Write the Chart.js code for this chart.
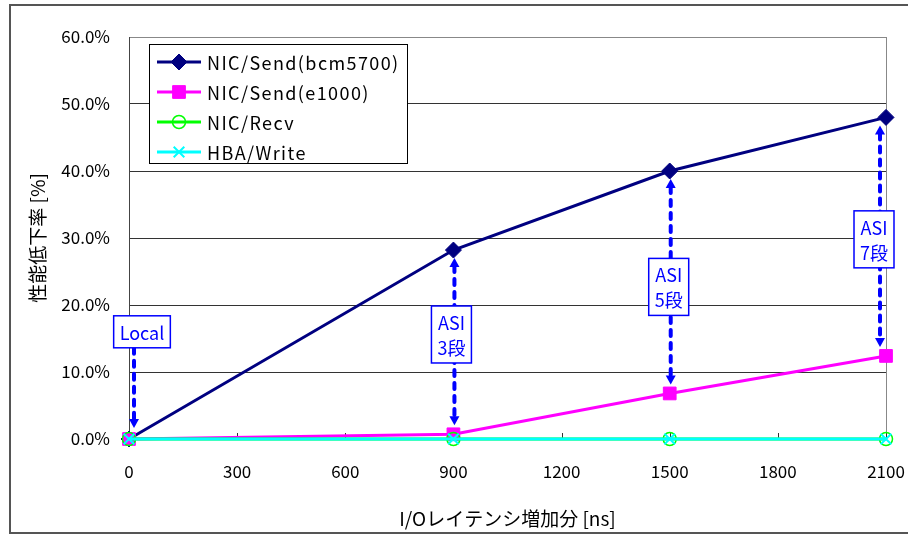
<!DOCTYPE html>
<html>
<head>
<meta charset="utf-8">
<script src="https://cdn.jsdelivr.net/npm/chart.js@4.4.0/dist/chart.umd.min.js"></script>
<style>
    html, body { margin: 0; padding: 0; background: #fff; }
</style>
</head>
<body>
<canvas id="chart" width="908" height="536"></canvas>
<script>
// Latency added (ns) and performance drop (%)
const latency = [0, 900, 1500, 2100];
const bcm5700 = [0, 28.2, 40.0, 48.0];
const e1000 = [0, 0.7, 6.8, 12.4];
const nicRecv = [0, 0, 0, 0];
const hbaWrite = [0, 0, 0, 0];

const seriesNames = ['NIC/Send(bcm5700)', 'NIC/Send(e1000)', 'NIC/Recv', 'HBA/Write'];
const xTitle = 'I/Oレイテンシ増加分 [ns]';
const yTitle = '性能低下率 [%]';

// Callouts: label and the height (%) of the label box centre
const stageLabels = [['Local'], ['ASI', '3段'], ['ASI', '5段'], ['ASI', '7段']];
const stageLabelY = [16.0, 15.6, 22.7, 29.8];

const FONT = '"Noto Sans CJK JP", "Noto Sans", sans-serif';
const BLUE = '#0000ff';

// hand-placed nudges of the callouts (px)
const boxShift = [13, -2, -1, -12];
const arrowShift = [5, 1, 1, -6];

function makeSet(label, data, color, style, radius, fill, border, order) {
    return {
        label: label,
        data: latency.map((x, i) => ({ x: x, y: data[i] })),
        borderColor: color,
        backgroundColor: color,
        borderWidth: 3,
        pointStyle: style,
        pointRadius: radius,
        pointHoverRadius: radius,
        pointBackgroundColor: fill,
        pointBorderColor: color,
        pointBorderWidth: border,
        tension: 0,
        clip: false,
        order: order
    };
}

// white page + outer frame
const framePlugin = {
    id: 'frame',
    beforeDraw(chart) {
        const ctx = chart.ctx;
        ctx.save();
        ctx.fillStyle = '#fff';
        ctx.fillRect(0, 0, chart.width, chart.height);
        ctx.strokeStyle = '#555';
        ctx.lineWidth = 2;
        ctx.strokeRect(10, 5, chart.width + 20, 528);
        ctx.restore();
    },
    beforeDatasetsDraw(chart) {
        const ctx = chart.ctx;
        const a = chart.chartArea;
        const xs = chart.scales.x;
        ctx.save();
        // right border of plot area
        ctx.strokeStyle = '#888';
        ctx.lineWidth = 1;
        ctx.beginPath();
        ctx.moveTo(Math.round(a.right) + 0.5, a.top);
        ctx.lineTo(Math.round(a.right) + 0.5, a.bottom);
        ctx.stroke();
        // inside tick marks on the x axis
        ctx.strokeStyle = '#333';
        xs.ticks.forEach(t => {
            const px = Math.round(xs.getPixelForValue(t.value)) + 0.5;
            ctx.beginPath();
            ctx.moveTo(px, a.bottom);
            ctx.lineTo(px, a.bottom - 6);
            ctx.stroke();
        });
        ctx.restore();
    }
};

function arrowHead(ctx, x, y, dir) {
    ctx.beginPath();
    ctx.moveTo(x, y);
    ctx.lineTo(x - 5, y - dir * 9);
    ctx.lineTo(x + 5, y - dir * 9);
    ctx.closePath();
    ctx.fill();
}

const calloutPlugin = {
    id: 'callouts',
    afterDatasetsDraw(chart) {
        const ctx = chart.ctx;
        const xs = chart.scales.x, ys = chart.scales.y;
        ctx.save();
        ctx.font = '18px ' + FONT;
        stageLabels.forEach((lines, i) => {
            const px = xs.getPixelForValue(latency[i]);
            const ax = px + arrowShift[i];
            const bx = px + boxShift[i];
            const by = ys.getPixelForValue(stageLabelY[i]);
            const lineH = 25;
            const w = Math.max(...lines.map(l => ctx.measureText(l).width)) + 12;
            const h = lines.length * lineH + 7;

            let yTop, yBot, headUp;
            if (i === 0) {
                yTop = by + h / 2;
                yBot = ys.getPixelForValue(e1000[i]) - 11;
                headUp = false;
            } else {
                yTop = ys.getPixelForValue(bcm5700[i]) + 8;
                yBot = ys.getPixelForValue(e1000[i]) - 9;
                headUp = true;
            }
            // dashed shaft
            ctx.strokeStyle = BLUE;
            ctx.fillStyle = BLUE;
            ctx.lineWidth = 4;
            ctx.lineCap = 'round';
            ctx.setLineDash([6, 7]);
            ctx.beginPath();
            ctx.moveTo(ax, yTop + (headUp ? 8 : 0));
            ctx.lineTo(ax, yBot - 8);
            ctx.stroke();
            ctx.setLineDash([]);
            arrowHead(ctx, ax, yBot, 1);
            if (headUp) arrowHead(ctx, ax, yTop, -1);

            // label box
            ctx.fillStyle = '#fff';
            ctx.fillRect(bx - w / 2, by - h / 2, w, h);
            ctx.lineWidth = 1.5;
            ctx.strokeRect(bx - w / 2, by - h / 2, w, h);
            ctx.fillStyle = BLUE;
            ctx.textAlign = 'center';
            ctx.textBaseline = 'middle';
            lines.forEach((l, k) => {
                ctx.fillText(l, bx, by - (lines.length - 1) * lineH / 2 + k * lineH + 1);
            });
        });
        ctx.restore();
    }
};

// boxed legend inside the plot
const legendPlugin = {
    id: 'boxLegend',
    afterDraw(chart) {
        const ctx = chart.ctx;
        const left = 149, top = 44, w = 258, h = 119, rowH = 30;
        ctx.save();
        ctx.fillStyle = '#fff';
        ctx.fillRect(left, top, w, h);
        ctx.strokeStyle = '#000';
        ctx.lineWidth = 1;
        ctx.strokeRect(left + 0.5, top + 0.5, w, h);
        ctx.font = '18px ' + FONT;
        ctx.textBaseline = 'middle';
        ctx.letterSpacing = '1.4px';
        chart.data.datasets.forEach((ds, i) => {
            const y = top + 18 + i * rowH;
            ctx.strokeStyle = ds.borderColor;
            ctx.lineWidth = 3;
            ctx.beginPath();
            ctx.moveTo(left + 8, y);
            ctx.lineTo(left + 52, y);
            ctx.stroke();
            ctx.fillStyle = ds.pointBackgroundColor;
            ctx.strokeStyle = ds.pointBorderColor;
            ctx.lineWidth = ds.pointBorderWidth;
            Chart.helpers.drawPoint(ctx, {
                pointStyle: ds.pointStyle,
                radius: ds.pointRadius,
                rotation: 0,
                borderWidth: ds.pointBorderWidth
            }, left + 30, y);
            ctx.fillStyle = '#000';
            ctx.fillText(ds.label, left + 58, y + 1);
        });
        ctx.restore();
    }
};

new Chart(document.getElementById('chart'), {
    type: 'line',
    data: {
        datasets: [
            makeSet(seriesNames[0], bcm5700, '#000080', 'rectRot', 8, '#000080', 1, 4),
            makeSet(seriesNames[1], e1000, '#ff00ff', 'rect', 9, '#ff00ff', 1, 3),
            makeSet(seriesNames[2], nicRecv, '#00ff00', 'circle', 6.5, 'rgba(0,0,0,0)', 1.5, 2),
            makeSet(seriesNames[3], hbaWrite, '#00ffff', 'crossRot', 7.5, '#00ffff', 2, 1)
        ]
    },
    options: {
        responsive: false,
        animation: false,
        devicePixelRatio: 1,
        layout: { padding: { left: 10, top: 37, right: 22, bottom: 0 } },
        plugins: {
            legend: { display: false },
            tooltip: { enabled: false }
        },
        scales: {
            x: {
                type: 'linear',
                min: 0,
                max: 2100,
                afterFit: s => { s.height = 97; },
                ticks: {
                    stepSize: 300,
                    color: '#000',
                    padding: 0,
                    maxRotation: 0,
                    font: { family: FONT, size: 17 },
                    callback: v => String(v)
                },
                // invisible tick marks only push the labels down
                grid: {
                    display: true,
                    drawOnChartArea: false,
                    drawTicks: true,
                    tickLength: 22,
                    tickColor: 'rgba(0,0,0,0)'
                },
                border: { display: true, color: '#333', width: 1 },
                title: {
                    display: true,
                    text: xTitle,
                    color: '#000',
                    padding: { top: 0, bottom: 6 },
                    font: { family: FONT, size: 19 }
                }
            },
            y: {
                min: 0,
                max: 60,
                afterFit: s => { s.width = 119; },
                ticks: {
                    stepSize: 10,
                    color: '#000',
                    padding: 19,
                    font: { family: FONT, size: 17 },
                    callback: v => v.toFixed(1) + '%'
                },
                grid: {
                    drawTicks: false,
                    color: ctx => ctx.tick && ctx.tick.value === 60 ? '#888' : '#333',
                    lineWidth: 1
                },
                border: { display: true, color: '#444', width: 1 },
                title: {
                    display: true,
                    text: yTitle,
                    color: '#000',
                    padding: { top: 16, bottom: 0 },
                    font: { family: FONT, size: 19 }
                }
            }
        }
    },
    plugins: [framePlugin, calloutPlugin, legendPlugin]
});
</script>
</body>
</html>
